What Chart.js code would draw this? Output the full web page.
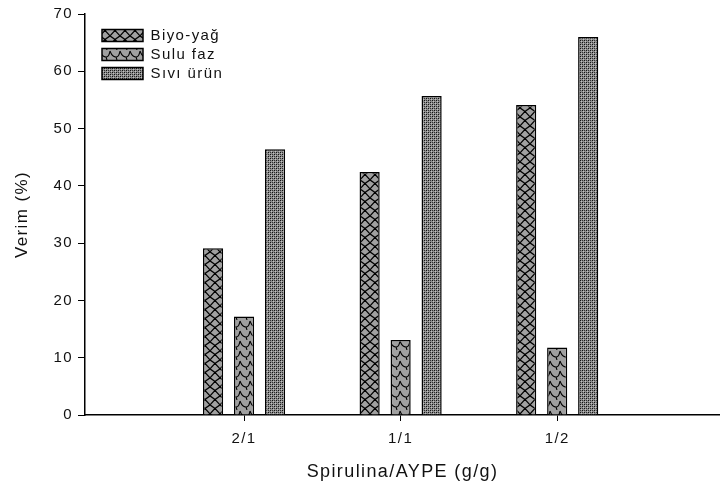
<!DOCTYPE html>
<html>
<head>
<meta charset="utf-8">
<script src="https://cdn.jsdelivr.net/npm/chart.js@4.4.1/dist/chart.umd.min.js"></script>
<style>
html,body{margin:0;padding:0;background:#fff;}
canvas{display:block;}
</style>
</head>
<body>
<canvas id="c" width="720" height="488"></canvas>
<script>
const categories = ['2/1', '1/1', '1/2'];
const seriesNames = ['Biyo-yağ', 'Sulu faz', 'Sıvı ürün'];
const biyoYag = [29.1, 42.4, 54.1];
const suluFaz = [17.2, 13.1, 11.8];
const siviUrun = [46.4, 55.7, 66.0];
const yTicks = [0, 10, 20, 30, 40, 50, 60, 70];

function makeTile(w, h, draw) {
  const c = document.createElement('canvas');
  c.width = w; c.height = h;
  const g = c.getContext('2d');
  draw(g, w, h);
  return document.getElementById('c').getContext('2d').createPattern(c, 'repeat');
}
const patDiamond = makeTile(10, 9, (g, w, h) => {
  g.fillStyle = '#a0a0a0'; g.fillRect(0, 0, w, h);
  g.strokeStyle = '#000'; g.lineWidth = 1.2;
  g.beginPath();
  g.moveTo(0, 0); g.quadraticCurveTo(6, 3, 10, 9);
  g.moveTo(10, 0); g.quadraticCurveTo(4, 3, 0, 9);
  g.stroke();
  g.fillStyle = '#000';
  g.fillRect(4, 3, 2, 2);
});
const patScale = makeTile(10, 10, (g, w, h) => {
  g.fillStyle = '#a0a0a0'; g.fillRect(0, 0, w, h);
  g.strokeStyle = '#000'; g.lineWidth = 1.1;
  g.beginPath();
  g.moveTo(0, 1); g.quadraticCurveTo(2, 7, 6, 7); g.quadraticCurveTo(9, 7, 10, 1);
  g.moveTo(6, 7); g.lineTo(7, 10);
  g.stroke();
});
const patFine = makeTile(4, 4, (g, w, h) => {
  g.fillStyle = '#8e8e8e'; g.fillRect(0, 0, w, h);
  g.fillStyle = '#111';
  g.fillRect(0, 0, 1, 1); g.fillRect(2, 2, 1, 1);
  g.fillStyle = '#333';
  g.fillRect(2, 0, 1, 1); g.fillRect(0, 2, 1, 1);
  g.fillStyle = '#c0c0c0';
  g.fillRect(1, 1, 1, 1); g.fillRect(3, 3, 1, 1);
});

const patterns = [patDiamond, patScale, patFine];
const values = [biyoYag, suluFaz, siviUrun];

const datasets = seriesNames.map((name, s) => ({
  label: name,
  data: categories.map((c, i) => ({ x: i + 1, y: values[s][i] })),
  backgroundColor: patterns[s],
  borderColor: '#000',
  borderWidth: 1.5,
  categoryPercentage: 0.594,
  barPercentage: 0.65
}));

Chart.defaults.font.family = '"Liberation Sans", Arial, sans-serif';
Chart.defaults.color = '#111';

const spacingPlugin = {
  id: 'spacing',
  beforeLayout(chart) { chart.ctx.letterSpacing = '1.4px'; },
  beforeDraw(chart) { chart.ctx.letterSpacing = '1.4px'; }
};
const legendShift = {
  id: 'legendShift',
  afterLayout(chart) {
    const lg = chart.legend;
    if (lg) { lg.left += 13; lg.right += 13; lg.top += 24; lg.bottom += 24; }
  }
};

new Chart(document.getElementById('c'), {
  type: 'bar',
  data: { datasets },
  plugins: [spacingPlugin, legendShift],
  options: {
    responsive: false,
    animation: false,
    devicePixelRatio: 1,
    layout: { padding: { top: 14, right: 0, left: 0, bottom: 0 } },
    plugins: {
      tooltip: { enabled: false },
      legend: {
        position: 'chartArea',
        align: 'start',
        labels: {
          boxWidth: 41,
          boxHeight: 12,
          padding: 4,
          font: { size: 15 },
          color: '#111'
        }
      }
    },
    scales: {
      x: {
        type: 'linear',
        offset: false,
        min: -0.016,
        max: 4.04,
        afterBuildTicks: (scale) => { scale.ticks = categories.map((c, i) => ({ value: i + 1 })); },
        afterFit: (scale) => { scale.height = 73; },
        ticks: {
          autoSkip: false,
          maxRotation: 0,
          padding: 9,
          font: { size: 15 },
          color: '#111',
          callback: (v) => categories[v - 1]
        },
        grid: { display: true, offset: false, drawOnChartArea: false, tickLength: 6, color: '#000', lineWidth: 1 },
        border: { display: true, color: '#000', width: 1.5 },
        title: { display: true, text: 'Spirulina/AYPE (g/g)', font: { size: 18 }, color: '#111', padding: { top: 0, bottom: 5 } }
      },
      y: {
        min: 0,
        max: 70,
        afterBuildTicks: (scale) => { scale.ticks = yTicks.map(v => ({ value: v })); },
        afterFit: (scale) => { scale.width = 85; },
        ticks: { padding: 5, font: { size: 15 }, color: '#111' },
        grid: { display: true, drawOnChartArea: false, tickLength: 7, color: '#000', lineWidth: 1 },
        border: { display: true, color: '#000', width: 1.5 },
        title: { display: true, text: 'Verim (%)', font: { size: 17 }, color: '#111', padding: { top: 12, bottom: 0 } }
      }
    }
  }
});
</script>
</body>
</html>
